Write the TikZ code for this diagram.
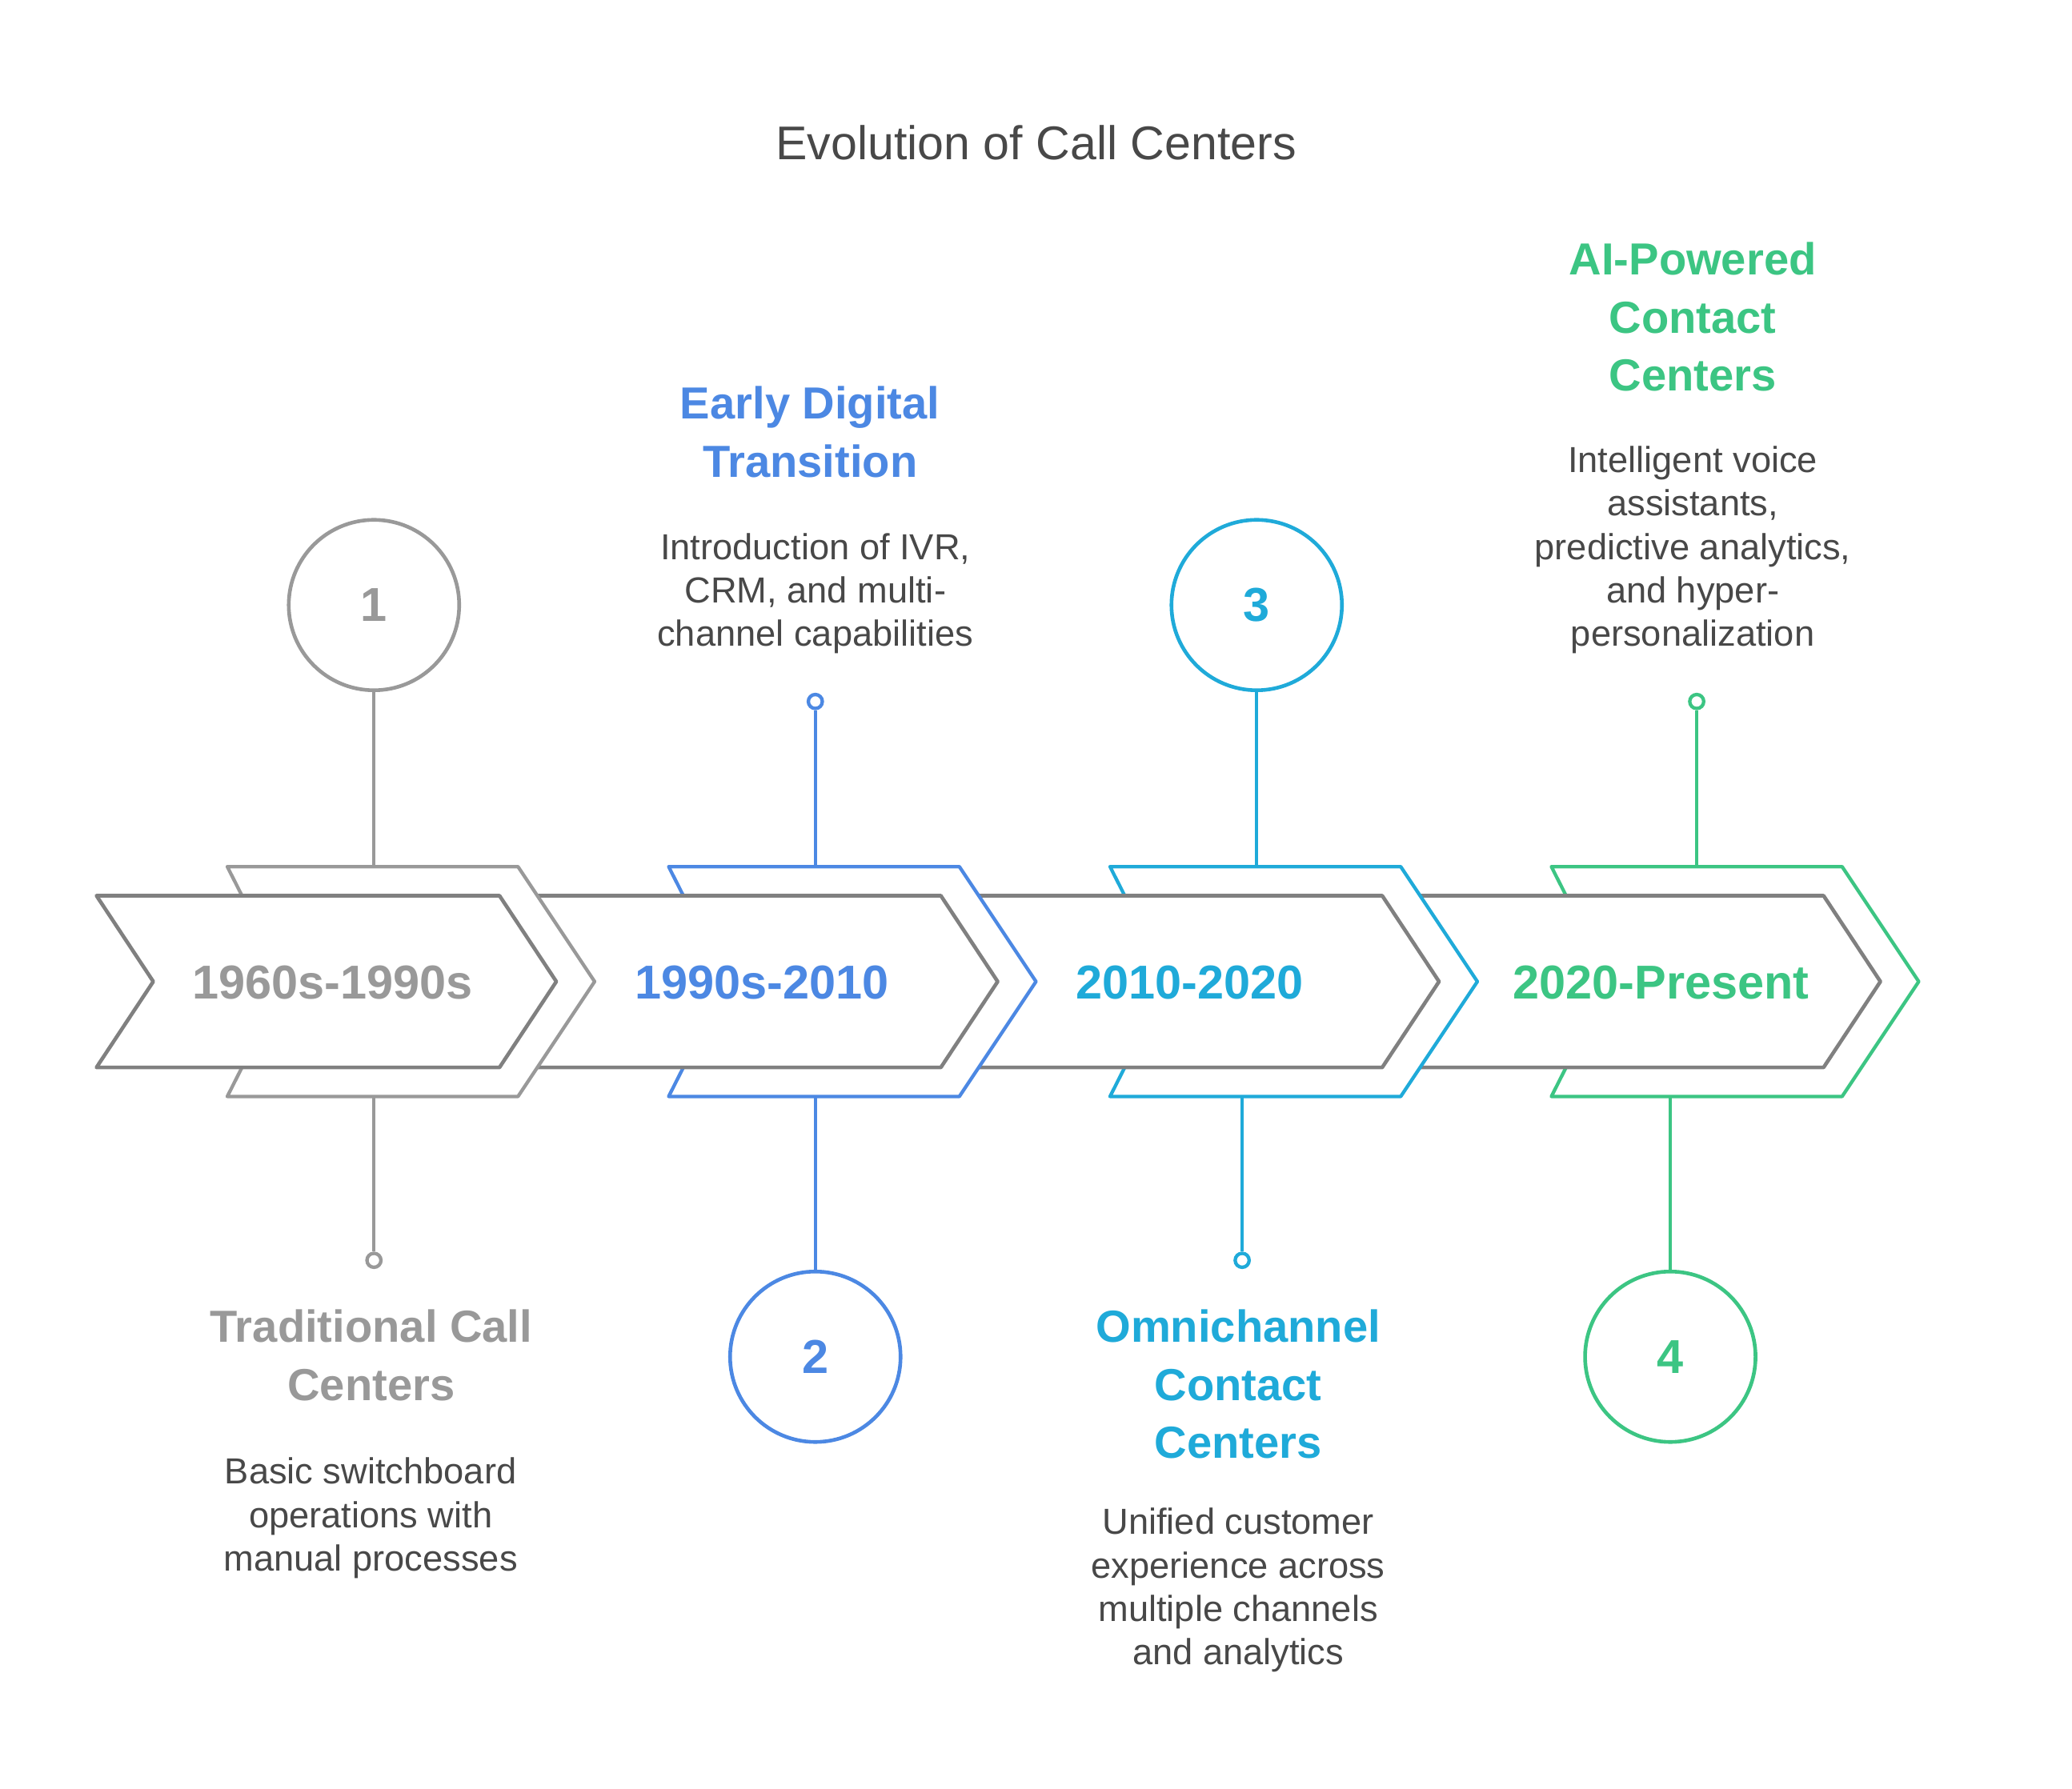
\documentclass[tikz,border=0pt]{standalone}
\usepackage{fontspec}
\setmainfont{Liberation Sans}
\definecolor{greyc}{HTML}{999999}
\definecolor{innergrey}{HTML}{808080}
\definecolor{darktext}{HTML}{484848}
\definecolor{bluec}{HTML}{4C88E3}
\definecolor{cyanc}{HTML}{1FAAD9}
\definecolor{greenc}{HTML}{3CC583}
\begin{document}
\begin{tikzpicture}[x=0.5pt,y=-0.5pt,
  innerchev/.style={draw=innergrey, fill=white, line width=1.4pt, line join=round},
  outerchev/.style={fill=white, line width=1.3pt, line join=round},
  bignum/.style={circle, draw, fill=white, line width=1.4pt, minimum size=64.5pt, inner sep=0pt, font=\fontsize{18}{18}\selectfont\bfseries},
  smalldot/.style={circle, draw, fill=white, line width=1.3pt, minimum size=5.3pt, inner sep=0pt},
  conn/.style={line width=1.3pt},
  head/.style={align=center, anchor=base, font=\fontsize{17}{22}\selectfont\bfseries},
  body/.style={align=center, anchor=base, text=darktext, font=\fontsize{13.7}{16.4}\selectfont},
  yearlbl/.style={anchor=base, font=\fontsize{18}{18}\selectfont\bfseries}
]
\path[use as bounding box, fill=white] (0,0) rectangle (1568,1354);

% title
\node[anchor=base, text=darktext, font=\fontsize{17.9}{20}\selectfont] (title) at (784,121) {Evolution of Call Centers};

% chevrons, drawn right to left
\draw[outerchev, draw=greenc] (1174,656) -- (1394,656) -- (1452,743) -- (1394,830) -- (1174,830) -- (1218,743) -- cycle;
\draw[innerchev] (1046,678) -- (1380,678) -- (1423,743) -- (1380,808) -- (1046,808) -- (1089,743) -- cycle;
\draw[outerchev, draw=cyanc] (840,656) -- (1060,656) -- (1118,743) -- (1060,830) -- (840,830) -- (884,743) -- cycle;
\draw[innerchev] (712,678) -- (1046,678) -- (1089,743) -- (1046,808) -- (712,808) -- (755,743) -- cycle;
\draw[outerchev, draw=bluec] (506,656) -- (726,656) -- (784,743) -- (726,830) -- (506,830) -- (550,743) -- cycle;
\draw[innerchev] (378,678) -- (712,678) -- (755,743) -- (712,808) -- (378,808) -- (421,743) -- cycle;
\draw[outerchev, draw=greyc] (172,656) -- (392,656) -- (450,743) -- (392,830) -- (172,830) -- (216,743) -- cycle;
\draw[innerchev] (73,678) -- (378,678) -- (421,743) -- (378,808) -- (73,808) -- (116,743) -- cycle;

% year labels
\node[yearlbl, text=greyc] (y1) at (251.5,756) {1960s-1990s};
\node[yearlbl, text=bluec] (y2) at (576.5,756) {1990s-2010};
\node[yearlbl, text=cyanc] (y3) at (900.5,756) {2010-2020};
\node[yearlbl, text=greenc] (y4) at (1257,756) {2020-Present};

% connector end points on chevrons
\coordinate (t1) at (283,656);  \coordinate (b1) at (283,830);
\coordinate (t2) at (617,656);  \coordinate (b2) at (617,830);
\coordinate (t3) at (951,656);  \coordinate (b3) at (940,830);
\coordinate (t4) at (1284,656); \coordinate (b4) at (1264,830);

% circles
\node[bignum, draw=greyc, text=greyc] (c1) at (283,458) {1};
\node[bignum, draw=bluec, text=bluec] (c2) at (617,1027) {2};
\node[bignum, draw=cyanc, text=cyanc] (c3) at (951,458) {3};
\node[bignum, draw=greenc, text=greenc] (c4) at (1264,1027) {4};
\node[smalldot, draw=greyc] (d1) at (283,954) {};
\node[smalldot, draw=bluec] (d2) at (617,531) {};
\node[smalldot, draw=cyanc] (d3) at (940,954) {};
\node[smalldot, draw=greenc] (d4) at (1284,531) {};

% connectors
\draw[conn, greyc] (c1) -- (t1);
\draw[conn, greyc] (b1) -- (d1);
\draw[conn, bluec] (d2) -- (t2);
\draw[conn, bluec] (b2) -- (c2);
\draw[conn, cyanc] (c3) -- (t3);
\draw[conn, cyanc] (b3) -- (d3);
\draw[conn, greenc] (d4) -- (t4);
\draw[conn, greenc] (b4) -- (c4);

% headings (anchor = baseline of last line)
\node[head, text=greyc] (h1) at (281,1060) {Traditional Call\\Centers};
\node[head, text=bluec] (h2) at (613,361) {Early Digital\\Transition};
\node[head, text=cyanc] (h3) at (937,1104) {Omnichannel\\Contact\\Centers};
\node[head, text=greenc] (h4) at (1281,296) {AI-Powered\\Contact\\Centers};

% descriptions (anchor = baseline of last line)
\node[body] (p1) at (280.5,1189) {Basic switchboard\\operations with\\manual processes};
\node[body] (p2) at (617,489) {Introduction of IVR,\\CRM, and multi-\\channel capabilities};
\node[body] (p3) at (937,1260) {Unified customer\\experience across\\multiple channels\\and analytics};
\node[body] (p4) at (1281,489) {Intelligent voice\\assistants,\\predictive analytics,\\and hyper-\\personalization};
\end{tikzpicture}
\end{document}
